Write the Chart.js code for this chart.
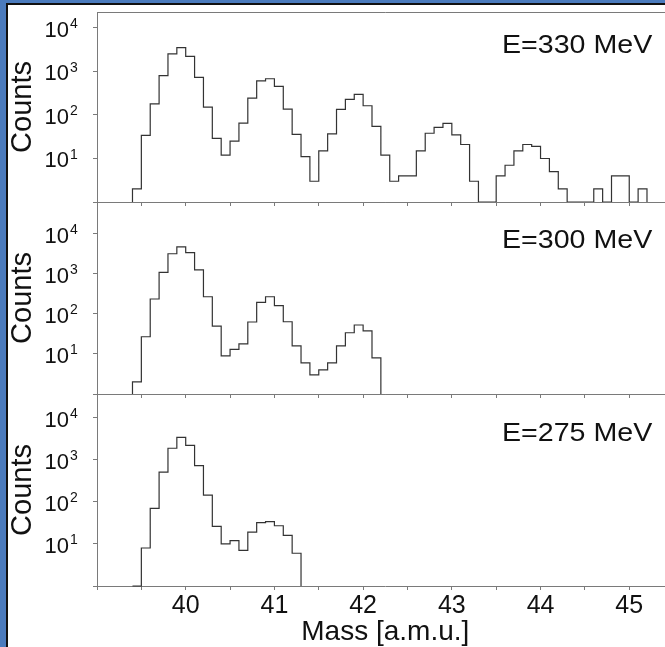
<!DOCTYPE html>
<html>
<head>
<meta charset="utf-8">
<script src="https://cdn.jsdelivr.net/npm/chart.js@4.4.1/dist/chart.umd.min.js"></script>
<style>
  html, body { margin: 0; padding: 0; background: #4b7bbd; overflow: hidden; }
  #frame { position: absolute; left: 6px; top: 3px; width: 659px; height: 644px; background: #fff;
           border-left: 2px solid #111; border-top: 2px solid #111; box-sizing: border-box; }
  #plots { position: absolute; left: 0; top: 0; width: 665px; height: 647px; overflow: hidden; }
  #plots canvas { position: absolute; left: 0; top: 0; }
</style>
</head>
<body>
<div id="frame"></div>
<div id="plots">
  <canvas id="panel330" width="680" height="647"></canvas>
  <canvas id="panel300" width="680" height="647"></canvas>
  <canvas id="panel275" width="680" height="647"></canvas>
</div>
<script>
// lower edges of the 0.1 amu mass bins (last value closes the last bin)
const binEdges = [39.4, 39.5, 39.6, 39.7, 39.8, 39.9, 40.0, 40.1, 40.2, 40.3,
                  40.4, 40.5, 40.6, 40.7, 40.8, 40.9, 41.0, 41.1, 41.2, 41.3,
                  41.4, 41.5, 41.6, 41.7, 41.8, 41.9, 42.0, 42.1, 42.2, 42.3,
                  42.4, 42.5, 42.6, 42.7, 42.8, 42.9, 43.0, 43.1, 43.2, 43.3,
                  43.4, 43.5, 43.6, 43.7, 43.8, 43.9, 44.0, 44.1, 44.2, 44.3,
                  44.4, 44.5, 44.6, 44.7, 44.8, 44.9, 45.0, 45.1, 45.2];

// counts per bin, starting at binEdges[0]
const counts330 = [2, 34, 180, 800, 2550, 3550, 2230, 730, 152, 29,
                   12, 25, 65, 245, 610, 680, 455, 137, 36, 11,
                   3, 15, 37, 134, 228, 298, 163, 55, 12, 3,
                   4, 4, 15, 38, 52, 64, 35, 21, 3, 0,
                   0, 4, 7, 15, 21, 19, 10, 5, 2, 0,
                   0, 0, 2, 0, 4, 4, 0, 2];
const counts300 = [2, 27, 237, 1100, 3200, 4750, 3420, 1260, 270, 50,
                   9, 13, 18, 63, 196, 270, 162, 64, 16, 6,
                   3, 4, 6, 16, 34, 53, 38, 8];
const counts275 = [0, 8, 70, 505, 1870, 3400, 2180, 720, 144, 26,
                   10, 12, 7, 19, 32, 34, 27, 16, 6];

const energyLabels = ['E=330 MeV', 'E=300 MeV', 'E=275 MeV'];
const decadeExponents = [0, 1, 2, 3, 4];
const massMin = 39, massMax = 45.5, massStep = 0.5;

const FONT = '"Liberation Sans", Arial, Helvetica, sans-serif';
const AXIS = '#7a7a7a';
const INK = '#111';
const BASE = 1; // empty bins sit on the 10^0 baseline

Chart.defaults.font.family = FONT;

// step outline: baseline -> each bin -> baseline
function outline(counts) {
  const pts = [{ x: binEdges[0], y: BASE }];
  counts.forEach((c, i) => pts.push({ x: binEdges[i], y: c > 0 ? c : BASE }));
  pts.push({ x: binEdges[counts.length], y: BASE });
  return pts;
}

const panelText = {
  id: 'panelText',
  afterDraw(chart, args, opts) {
    const { ctx, chartArea: a, scales: { y } } = chart;
    ctx.save();
    // top frame line
    ctx.strokeStyle = AXIS;
    ctx.lineWidth = 1;
    const ty = Math.round(a.top) + 0.5;
    ctx.beginPath();
    ctx.moveTo(a.left, ty);
    ctx.lineTo(a.right, ty);
    ctx.stroke();

    // decade labels 10^n
    ctx.fillStyle = INK;
    ctx.textBaseline = 'alphabetic';
    decadeExponents.filter(e => e > 0).forEach(e => {
      const py = y.getPixelForValue(Math.pow(10, e));
      ctx.font = '22px ' + FONT;
      ctx.textAlign = 'right';
      ctx.fillText('10', 69, py + 9);
      ctx.font = '14px ' + FONT;
      ctx.textAlign = 'left';
      ctx.fillText(String(e), 70, py + 0.5);
    });

    // energy label
    ctx.translate(502, a.top + opts.drop);
    ctx.scale(1.1, 1);
    ctx.font = '26px ' + FONT;
    ctx.textAlign = 'left';
    ctx.fillText(opts.text, 0, 0);
    ctx.restore();
  }
};

const panels = [
  { id: 'panel330', counts: counts330, label: energyLabels[0], yMax: 23300, top: 12, bottom: 202, drop: 41, showX: false },
  { id: 'panel300', counts: counts300, label: energyLabels[1], yMax: 63000, top: 202, bottom: 394, drop: 46, showX: false },
  { id: 'panel275', counts: counts275, label: energyLabels[2], yMax: 36400, top: 394, bottom: 586, drop: 47, showX: true }
];

panels.forEach(p => {
  new Chart(document.getElementById(p.id), {
    type: 'line',
    data: {
      datasets: [{
        data: outline(p.counts),
        stepped: 'before',
        borderColor: '#333',
        borderWidth: 1.2,
        pointRadius: 0,
        fill: false,
        clip: false
      }]
    },
    options: {
      responsive: false,
      animation: false,
      events: [],
      layout: { padding: { left: 0, top: p.top, right: 6.4, bottom: 0 } },
      plugins: {
        legend: { display: false },
        tooltip: { enabled: false },
        panelText: { text: p.label, drop: p.drop }
      },
      scales: {
        x: {
          type: 'linear',
          min: massMin,
          max: massMax,
          border: { display: true, color: AXIS, width: 1 },
          grid: { drawOnChartArea: false, drawTicks: true, tickLength: 4, color: AXIS },
          ticks: {
            stepSize: massStep,
            autoSkip: false,
            maxRotation: 0,
            padding: 4,
            color: INK,
            font: { size: 25, lineHeight: 1 },
            callback: v => (p.showX && Number.isInteger(v) && v > massMin) ? String(v) : ''
          },
          title: {
            display: p.showX,
            text: 'Mass [a.m.u.]',
            color: INK,
            font: { size: 28, lineHeight: 1 },
            padding: { top: 0, bottom: 1 }
          },
          afterFit: s => { s.height = 647 - p.bottom; }
        },
        y: {
          type: 'logarithmic',
          min: BASE,
          max: p.yMax,
          border: { display: true, color: AXIS, width: 1 },
          grid: { drawOnChartArea: false, drawTicks: true, tickLength: 4, color: AXIS },
          ticks: { display: false },
          afterBuildTicks: s => { s.ticks = decadeExponents.map(e => ({ value: Math.pow(10, e) })); },
          title: {
            display: true,
            text: 'Counts',
            color: INK,
            font: { size: 29, lineHeight: 1 },
            padding: { top: 8.8, bottom: 0 }
          },
          afterFit: s => { s.width = 97; }
        }
      }
    },
    plugins: [panelText]
  });
});
</script>
</body>
</html>
